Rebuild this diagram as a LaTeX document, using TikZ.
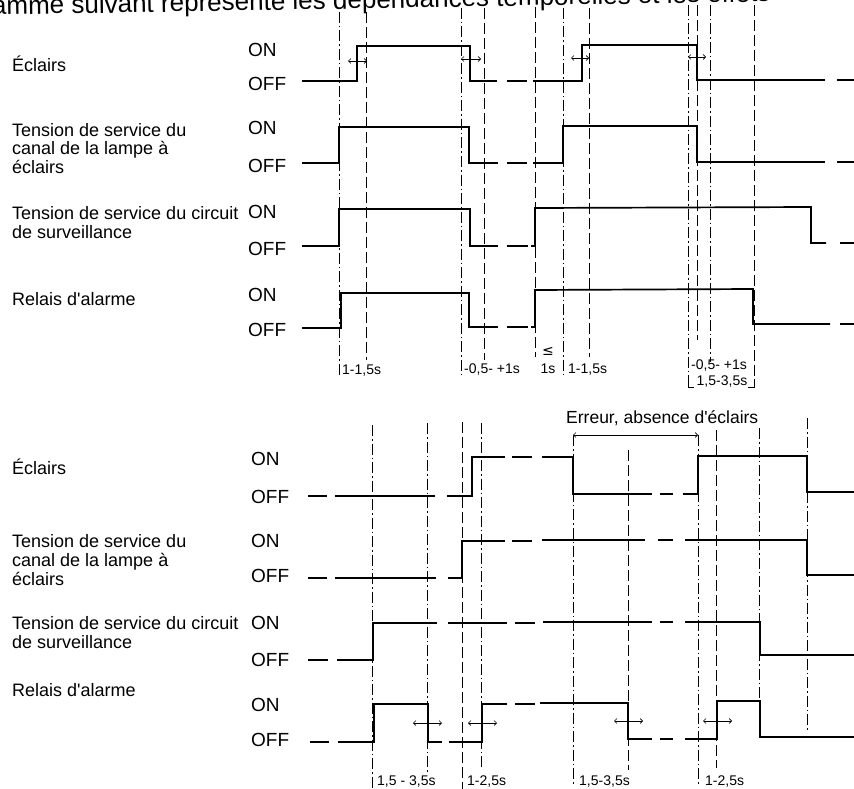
\documentclass[tikz,border=0pt]{standalone}
\usepackage{fontspec}
\setmainfont{Liberation Sans}
\newfontfamily\djv{DejaVu Sans}
\usetikzlibrary{arrows.meta}
\newcommand{\apos}{\textquotesingle}
\begin{document}
\begin{tikzpicture}[x=1pt,y=-1pt,
  wave/.style={line width=1.7pt, line join=miter},
  vl/.style={line width=0.75pt, dash pattern=on 11pt off 4pt},
  vld/.style={line width=0.75pt, dash pattern=on 11pt off 3pt on 1.5pt off 3pt},
  dbl/.style={line width=0.6pt, {Straight Barb[length=2.5pt,width=5pt]}-{Straight Barb[length=2.5pt,width=5pt]}},
  lab/.style={font=\fontsize{18}{20}\selectfont, anchor=base west, inner sep=0pt},
  onoff/.style={font=\fontsize{19}{21}\selectfont, anchor=west, inner sep=0pt},
  tim/.style={font=\fontsize{14}{16}\selectfont, anchor=west, inner sep=0pt}]
\clip (0,0) rectangle (854,789);
\fill[white] (0,0) rectangle (854,789);

% header (cut off at the top, as in the scan)
\node[font=\fontsize{26}{28}\selectfont, anchor=base west, inner sep=0pt, rotate=1] (hdr) at (-8,15) {amme suivant représente les dépendances temporelles et les effets};

% ================= TOP DIAGRAM =================
\node[lab] (t1) at (12,72) {Éclairs};
\node[lab] (t2a) at (12,136) {Tension de service du};
\node[lab] (t2b) at (12,155) {canal de la lampe à};
\node[lab] (t2c) at (12,174) {éclairs};
\node[lab] (t3a) at (12,219) {Tension de service du circuit};
\node[lab] (t3b) at (12,238) {de surveillance};
\node[lab] (t4) at (12,305) {Relais d\apos alarme};

\node[onoff] (on1) at (248,50) {ON};  \node[onoff] (off1) at (248,84) {OFF};
\node[onoff] (on2) at (248,128) {ON}; \node[onoff] (off2) at (248,166) {OFF};
\node[onoff] (on3) at (248,212) {ON}; \node[onoff] (off3) at (248,249) {OFF};
\node[onoff] (on4) at (248,295) {ON}; \node[onoff] (off4) at (248,330) {OFF};

% vertical reference lines
\draw[vld] (339,12) -- (339,376);
\draw[vl]  (366,12) -- (366,360);
\draw[vld] (461,8) -- (461,376);
\draw[vl]  (484,8) -- (484,360);
\draw[vl]  (535,7) -- (535,357);
\draw[vld] (563,8) -- (563,376);
\draw[vl]  (589,8) -- (589,357);
\draw[vld] (688,5) -- (688,381);
\draw[vl]  (697,5) -- (697,340);
\draw[vld] (710,5) -- (710,362);
\draw[vl]  (754,5) -- (754,381);
\draw[line width=0.75pt] (688,379) -- (688,387) -- (694,387);
\draw[line width=0.75pt] (754,379) -- (754,387) -- (748,387);

% row 1 : Eclairs
\draw[wave] (302,81) -- (357,81) -- (357,46) -- (470,46) -- (470,81) -- (497,81);
\draw[wave] (507,81) -- (527,81);
\draw[wave] (533,81) -- (582,81) -- (582,45) -- (697,45) -- (697,80) -- (825,80);
\draw[wave] (837,80) -- (854,80);
% row 2
\draw[wave] (302,163) -- (339,163) -- (339,127) -- (469,127) -- (469,163) -- (498,163);
\draw[wave] (507,163) -- (527,163);
\draw[wave] (533,163) -- (563,163) -- (563,126) -- (697,126) -- (697,162) -- (825,162);
\draw[wave] (837,162) -- (854,162);
% row 3
\draw[wave] (302,246) -- (339,246) -- (339,209) -- (470,209) -- (470,246) -- (498,246);
\draw[wave] (507,246) -- (528,246);
\draw[wave] (531,246) -- (535,246) -- (535,208) -- (811,207) -- (811,243) -- (826,243);
\draw[wave] (840,243) -- (854,243);
% row 4
\draw[wave] (302,328) -- (341,328) -- (341,293) -- (469,293) -- (469,327) -- (498,327);
\draw[wave] (507,327) -- (528,327);
\draw[wave] (531,327) -- (535,327) -- (535,290) -- (753,289) -- (753,324) -- (830,324);
\draw[wave] (840,324) -- (854,324);

% small double arrows
\draw[dbl] (348,61) -- (367,61);
\draw[dbl] (461,59) -- (481,59);
\draw[dbl] (571,58) -- (589,58);
\draw[dbl] (688,57) -- (706,57);

% time labels
\node[tim] (l1) at (342,371) {1-1,5s};
\node[tim] (l2) at (464,370) {-0,5- +1s};
\node[tim, anchor=center] (l3a) at (548,351) {\djv ≤};
\node[tim, anchor=center] (l3b) at (548,369) {1s};
\node[tim] (l4) at (568,370) {1-1,5s};
\node[tim] (l5) at (691,366) {-0,5- +1s};
\node[tim, anchor=center] (l6) at (722,382) {1,5-3,5s};

% ================= BOTTOM DIAGRAM =================
\node[lab] (b1) at (12,474) {Éclairs};
\node[lab] (b2a) at (12,547) {Tension de service du};
\node[lab] (b2b) at (12,566) {canal de la lampe à};
\node[lab] (b2c) at (12,585) {éclairs};
\node[lab] (b3a) at (12,629) {Tension de service du circuit};
\node[lab] (b3b) at (12,648) {de surveillance};
\node[lab] (b4) at (12,696) {Relais d\apos alarme};

\node[onoff] (bon1) at (251,459) {ON};  \node[onoff] (boff1) at (251,497) {OFF};
\node[onoff] (bon2) at (251,541) {ON};  \node[onoff] (boff2) at (251,576) {OFF};
\node[onoff] (bon3) at (251,623) {ON};  \node[onoff] (boff3) at (251,660) {OFF};
\node[onoff] (bon4) at (251,705) {ON};  \node[onoff] (boff4) at (251,740) {OFF};

% error annotation
\node[font=\fontsize{17.5}{19}\selectfont, anchor=base west, inner sep=0pt] (err) at (566,423) {Erreur, absence d\apos éclairs};
\coordinate (ea) at (573,435);
\coordinate (eb) at (698,435);
\draw[dbl] (ea) -- (eb);

% vertical reference lines
\draw[vld] (372,425) -- (372,789);
\draw[vld] (427,423) -- (427,772);
\draw[vl]  (462,422) -- (462,789);
\draw[vld] (481,423) -- (481,770);
\draw[vld] (573,435) -- (573,786);
\draw[vl]  (628,450) -- (628,770);
\draw[vld] (698,435) -- (698,784);
\draw[vl]  (716,430) -- (716,768);
\draw[vld] (759,428) -- (759,737);
\draw[vld] (807,418) -- (807,732);

% row 1
\draw[wave] (308,496) -- (327,496);
\draw[wave] (335,496) -- (435,496);
\draw[wave] (447,496) -- (472,496) -- (472,457) -- (505,457);
\draw[wave] (512,457) -- (532,457);
\draw[wave] (542,457) -- (573,457) -- (573,494) -- (652,494);
\draw[wave] (660,494) -- (673,494);
\draw[wave] (683,494) -- (698,494) -- (698,456) -- (807,456) -- (807,492) -- (854,492);
% row 2
\draw[wave] (308,578) -- (327,578);
\draw[wave] (335,578) -- (436,578);
\draw[wave] (448,578) -- (462,578) -- (462,541) -- (505,541);
\draw[wave] (512,541) -- (532,541);
\draw[wave] (542,540) -- (645,540);
\draw[wave] (658,540) -- (673,540);
\draw[wave] (685,540) -- (807,540) -- (807,575) -- (854,575);
% row 3
\draw[wave] (308,660) -- (328,660);
\draw[wave] (337,660) -- (373,660) -- (373,623) -- (437,623);
\draw[wave] (448,623) -- (507,623);
\draw[wave] (515,623) -- (535,623);
\draw[wave] (543,622) -- (652,622);
\draw[wave] (660,622) -- (673,622);
\draw[wave] (685,622) -- (760,622) -- (760,655) -- (854,655);
% row 4
\draw[wave] (310,742) -- (329,742);
\draw[wave] (338,742) -- (374,742) -- (374,704) -- (428,704) -- (428,742) -- (442,742);
\draw[wave] (449,742) -- (482,742) -- (482,704) -- (507,704);
\draw[wave] (515,704) -- (535,704);
\draw[wave] (540,703) -- (628,703) -- (628,739) -- (652,739);
\draw[wave] (660,739) -- (673,739);
\draw[wave] (685,739) -- (717,739) -- (717,701) -- (760,701) -- (760,737) -- (854,737);

% double arrows
\draw[dbl] (413,723) -- (442,723);
\draw[dbl] (468,723) -- (497,723);
\draw[dbl] (614,721) -- (643,721);
\draw[dbl] (703,721) -- (732,721);

% time labels
\node[tim] (m1) at (377,782) {1,5 - 3,5s};
\node[tim] (m2) at (467,782) {1-2,5s};
\node[tim] (m3) at (579,781) {1,5-3,5s};
\node[tim] (m4) at (705,781) {1-2,5s};
\end{tikzpicture}
\end{document}
